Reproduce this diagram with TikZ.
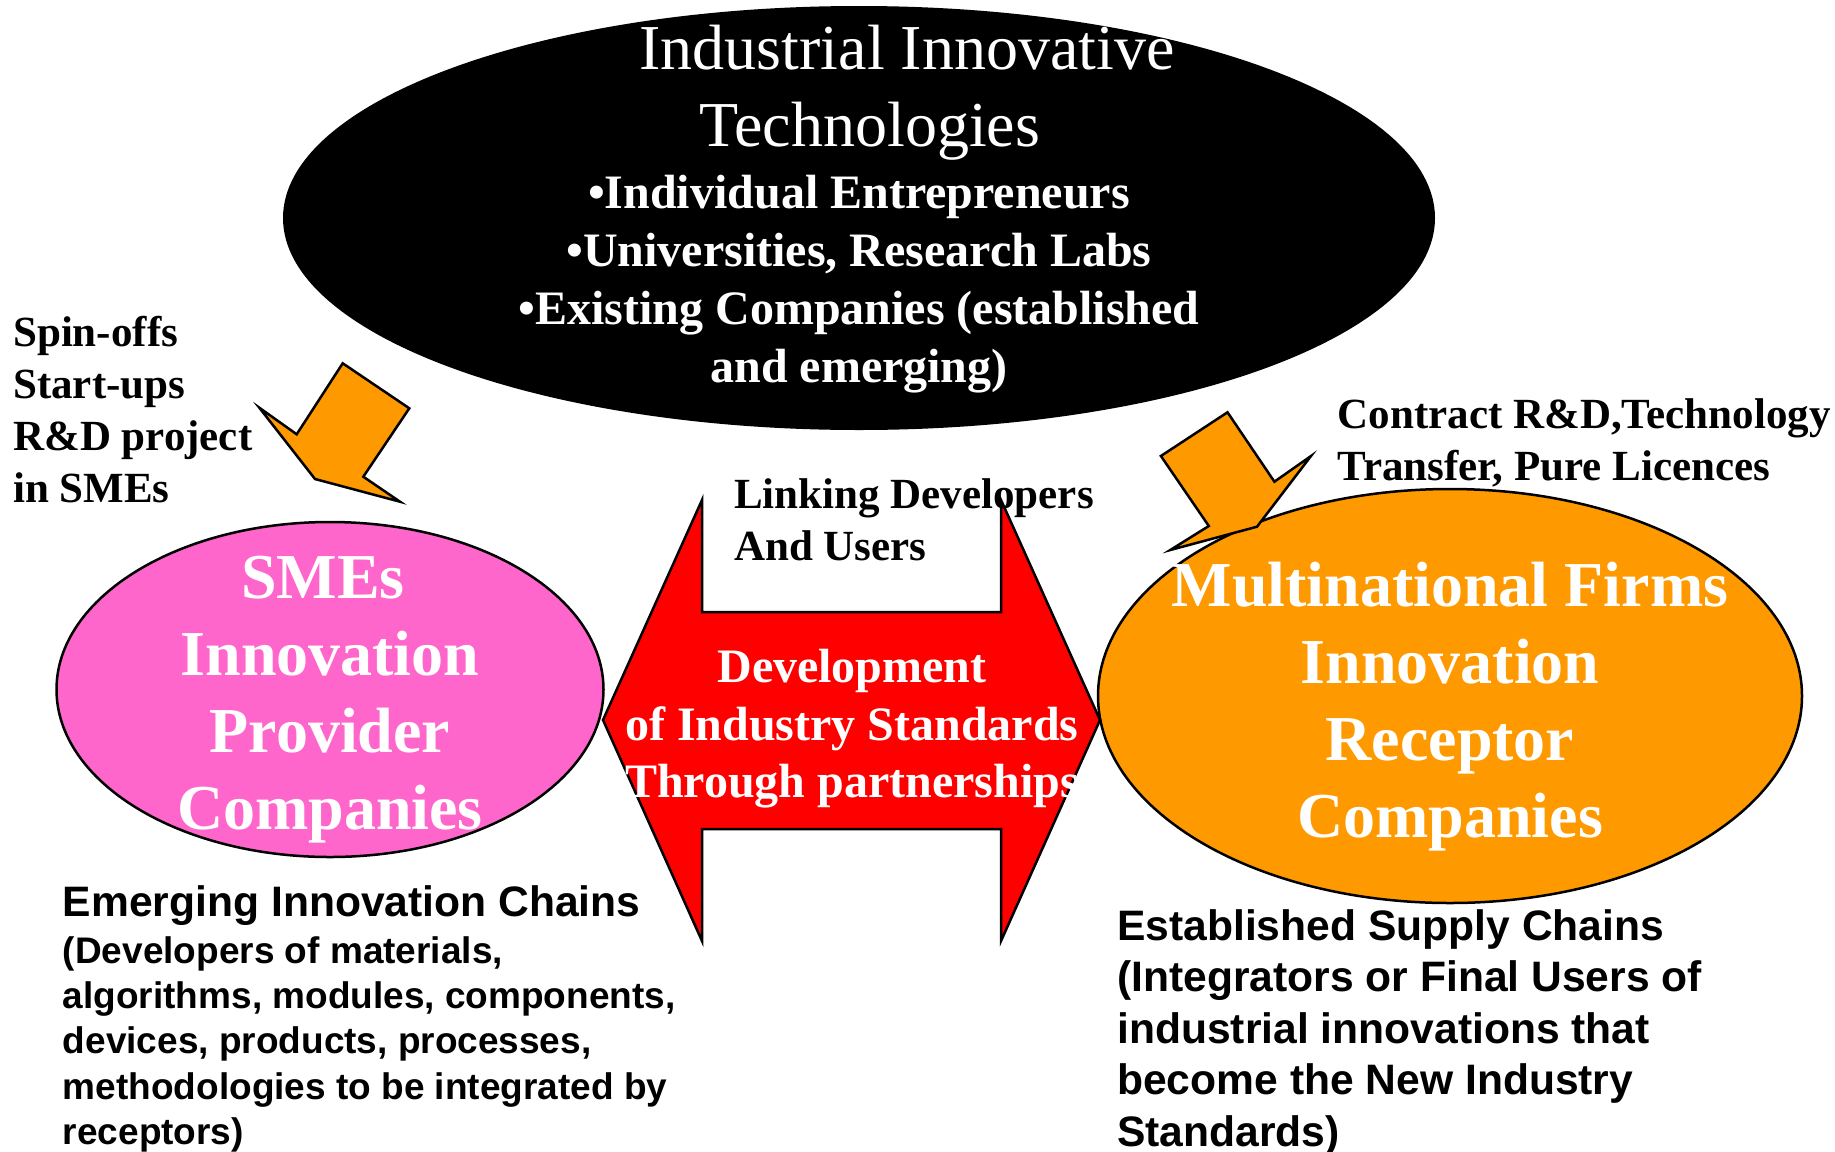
\documentclass[tikz,border=0pt]{standalone}
\usepackage{fontspec}
\setmainfont{Liberation Serif}
\newfontfamily\arialfont{Liberation Sans}
\usetikzlibrary{shapes.geometric,positioning}
\definecolor{smepink}{HTML}{FF66CC}
\definecolor{mnforange}{HTML}{FF9900}
\definecolor{stdred}{HTML}{FF0000}

\begin{document}
\begin{tikzpicture}[x=1pt, y=-1pt,
    blob/.style={ellipse, draw=black, line width=2.5pt, inner sep=0pt},
    blobtext/.style={text=white, font=\fontsize{64}{77}\selectfont\bfseries, align=center, inner sep=0pt, anchor=base},
    note/.style={font=\fontsize{43}{51.7}\selectfont\bfseries, align=left, inner sep=0pt, anchor=base west},
    chaintext/.style={font=\arialfont\bfseries, align=left, inner sep=0pt, anchor=base west},
    blockarrow/.style={fill=mnforange, draw=black, line width=2.5pt, line join=miter}]
    \useasboundingbox (0,0) rectangle (1835,1151);

    % Ellipses
    \node[blob, fill=black, draw=none, minimum width=1152pt, minimum height=424pt] (tech) at (859,218) {};
    \node[blob, fill=smepink, minimum width=547pt, minimum height=335pt] (sme) at (330,689.5) {};
    \node[blob, fill=mnforange, minimum width=704pt, minimum height=414pt] (mnf) at (1450,696) {};

    % Double arrow between the two groups
    \draw[fill=stdred, line width=2.5pt, line join=miter]
        (702,612) -- (702,500) -- (603,720) -- (702,941) -- (702,829) -- (1001,829)
        -- (1001,941) -- (1100,720) -- (1001,500) -- (1001,612) -- cycle;

    % Block arrows down from the technologies
    \draw[blockarrow] (342.7,363.3) -- (409.3,408.3) -- (363.3,476.7) -- (400,501.7)
        -- (315,479) -- (259.3,407.7) -- (296.7,434.3) -- cycle;
    \draw[blockarrow] (1227.5,412.3) -- (1274.4,481.7) -- (1311,456) -- (1257,526.7)
        -- (1170.3,550) -- (1208.8,526) -- (1160.9,456) -- cycle;

    % Texts in the ellipses (multi-line nodes sit on their last baseline)
    \node[text=white, font=\fontsize{64}{77}\selectfont, inner sep=0pt, anchor=base] (title1) at (907,69.3) {Industrial Innovative};
    \node[text=white, font=\fontsize{64}{77}\selectfont, inner sep=0pt, anchor=base] (title2) at (870,146) {Technologies};
    \node[text=white, font=\fontsize{48}{57.8}\selectfont\bfseries, align=center, inner sep=0pt, anchor=base] (sources) at (859,382)
        {•Individual Entrepreneurs\\•Universities, Research Labs\\•Existing Companies (established\\and emerging)};
    \node[blobtext] (smetext) at (330,829) {SMEs\hspace*{14pt}\\Innovation\\Provider\\Companies};
    \node[blobtext] (mnftext) at (1450,837) {Multinational Firms\\Innovation\\Receptor\\Companies};
    \node[blobtext, font=\fontsize{48}{57.5}\selectfont\bfseries] (stdtext) at (852,797.5)
        {Development\\of Industry Standards\\Through partnerships};

    % Side notes
    \node[note] (linking) at (734,560.3) {Linking Developers\\And Users};
    \node[note] (spinoffs) at (13,502) {Spin-offs\\Start-ups\\R\&D project\\in SMEs};
    \node[note] (contract) at (1337.5,480) {Contract R\&D,Technology\\Transfer, Pure Licences};

    % Chains below
    \node[chaintext, font=\arialfont\bfseries\fontsize{42.6}{46}\selectfont] (emerghead) at (62.7,916) {Emerging Innovation Chains};
    \node[chaintext, font=\arialfont\bfseries\fontsize{37}{45.4}\selectfont] (emergbody) at (62.7,1144.6)
        {(Developers of materials,\\algorithms, modules, components,\\devices, products, processes,\\methodologies to be integrated by\\receptors)};
    \node[chaintext, font=\arialfont\bfseries\fontsize{42.6}{51.5}\selectfont] (established) at (1117,1146)
        {Established Supply Chains\\(Integrators or Final Users of\\industrial innovations that\\become the New Industry\\Standards)};
\end{tikzpicture}
\end{document}
